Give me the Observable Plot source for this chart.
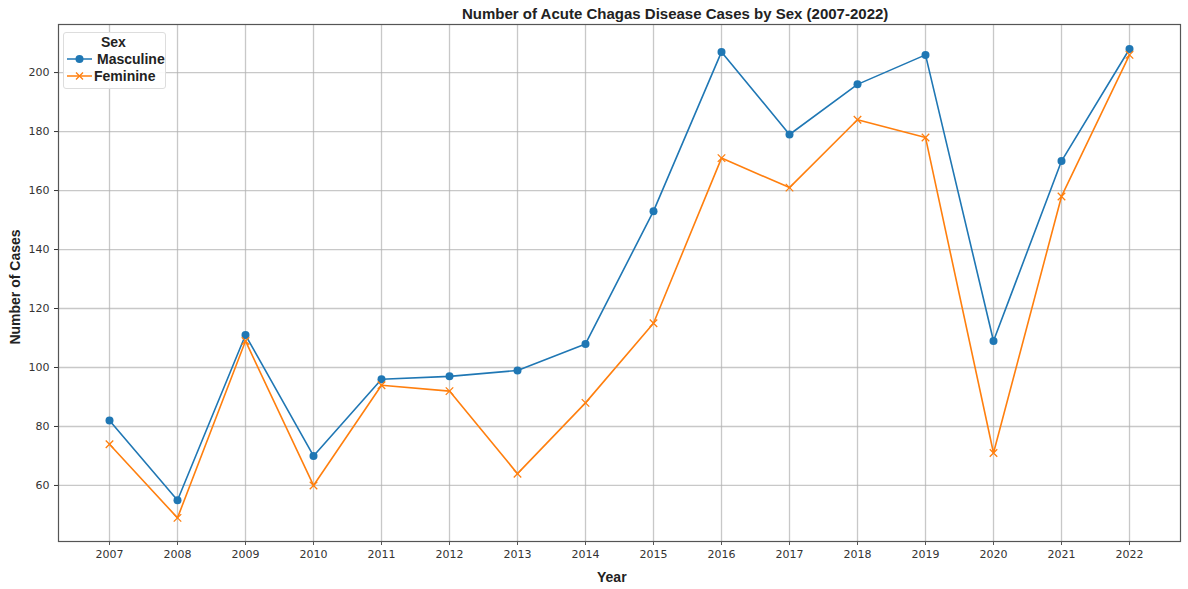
<!DOCTYPE html>
<html><head><meta charset="utf-8">
<script src="https://cdn.jsdelivr.net/npm/d3@7"></script>
<script src="https://cdn.jsdelivr.net/npm/@observablehq/plot@0.6"></script>
<style>
body{margin:0;background:#fff;}
#wrap{position:relative;width:1188px;height:589px;}
#title{position:absolute;top:5px;left:462px;font:bold 15px "Liberation Sans",Arial,sans-serif;color:#222;white-space:nowrap;}
#ylab{position:absolute;left:15px;top:287px;transform:translate(-50%,-50%) rotate(-90deg);font:bold 14px "Liberation Sans",Arial,sans-serif;color:#222;white-space:nowrap;}
#xlab{position:absolute;top:569px;left:597px;font:bold 14px "Liberation Sans",Arial,sans-serif;color:#222;}
#legend{position:absolute;left:63px;top:32px;width:101px;height:55px;border:1px solid #ddd;border-radius:3px;background:rgba(255,255,255,0.9);font:bold 14px "Liberation Sans",Arial,sans-serif;color:#222;}
#legend .t{position:absolute;left:37px;top:1px;}
#legend .r{position:absolute;left:3px;width:98px;height:16px;}
#legend svg{position:absolute;left:0;top:0;}
#legend .lbl{position:absolute;top:0;white-space:nowrap;}
</style></head>
<body><div id="wrap"><div id="chart"></div>
<div id="title">Number of Acute Chagas Disease Cases by Sex (2007-2022)</div>
<div id="ylab">Number of Cases</div>
<div id="xlab">Year</div>
<div id="legend"><div class="t">Sex</div>
<div class="r" style="top:18px"><svg width="28" height="16"><line x1="0" y1="8" x2="25" y2="8" stroke="#1f77b4" stroke-width="1.5"/><circle cx="12.5" cy="8" r="4" fill="#1f77b4"/></svg><span class="lbl" style="left:30px">Masculine</span></div>
<div class="r" style="top:35px"><svg width="28" height="16"><line x1="0" y1="8" x2="25" y2="8" stroke="#ff7f0e" stroke-width="1.5"/><path d="M9,4.5L16,11.5M16,4.5L9,11.5" stroke="#ff7f0e" stroke-width="1.3"/></svg><span class="lbl" style="left:27px">Feminine</span></div>
</div>
</div>
<script>
const years = [2007,2008,2009,2010,2011,2012,2013,2014,2015,2016,2017,2018,2019,2020,2021,2022];
const masculine = [82,55,111,70,96,97,99,108,153,207,179,196,206,109,170,208];
const feminine = [74,49,109,60,94,92,64,88,115,171,161,184,178,71,158,206];
const yTicks = [60,80,100,120,140,160,180,200];
const seriesNames = ["Masculine","Feminine"];
const colors = ["#1f77b4","#ff7f0e"];

const data = [];
years.forEach((y,i)=>{
  data.push({year:y, sex:seriesNames[0], cases:masculine[i]});
  data.push({year:y, sex:seriesNames[1], cases:feminine[i]});
});
const masc = data.filter(d=>d.sex==="Masculine");
const fem = data.filter(d=>d.sex==="Feminine");

const chart = Plot.plot({
  width:1188, height:589,
  marginLeft:58, marginRight:8, marginTop:24, marginBottom:48,
  style:{fontFamily:"DejaVu Sans, sans-serif", fontSize:"11px", color:"#333", background:"#fff"},
  x:{domain:[2006.25,2022.75], ticks:years, tickFormat:d=>String(d), label:null, tickSize:4, tickPadding:5},
  y:{domain:[41,216.3], ticks:yTicks, label:null, tickSize:4, tickPadding:4},
  marks:[
    Plot.gridX(years,{stroke:"#b0b0b0", strokeOpacity:0.7, strokeWidth:1.3}),
    Plot.gridY(yTicks,{stroke:"#b0b0b0", strokeOpacity:0.7, strokeWidth:1.3}),
    Plot.line(masc,{x:"year", y:"cases", stroke:colors[0], strokeWidth:1.6}),
    Plot.line(fem,{x:"year", y:"cases", stroke:colors[1], strokeWidth:1.6}),
    Plot.dot(masc,{x:"year", y:"cases", fill:colors[0], r:4}),
    Plot.dot(fem,{x:"year", y:"cases", stroke:colors[1], symbol:"times", r:3.5, strokeWidth:1.3}),
    Plot.frame({stroke:"#555", strokeWidth:1.2}),
    Plot.axisX({ticks:years, tickFormat:d=>String(d), tickSize:4, label:null, stroke:"#555"}),
    Plot.axisY({ticks:yTicks, tickSize:4, label:null})
  ]
});
document.getElementById("chart").appendChild(chart);
</script>
</body></html>
